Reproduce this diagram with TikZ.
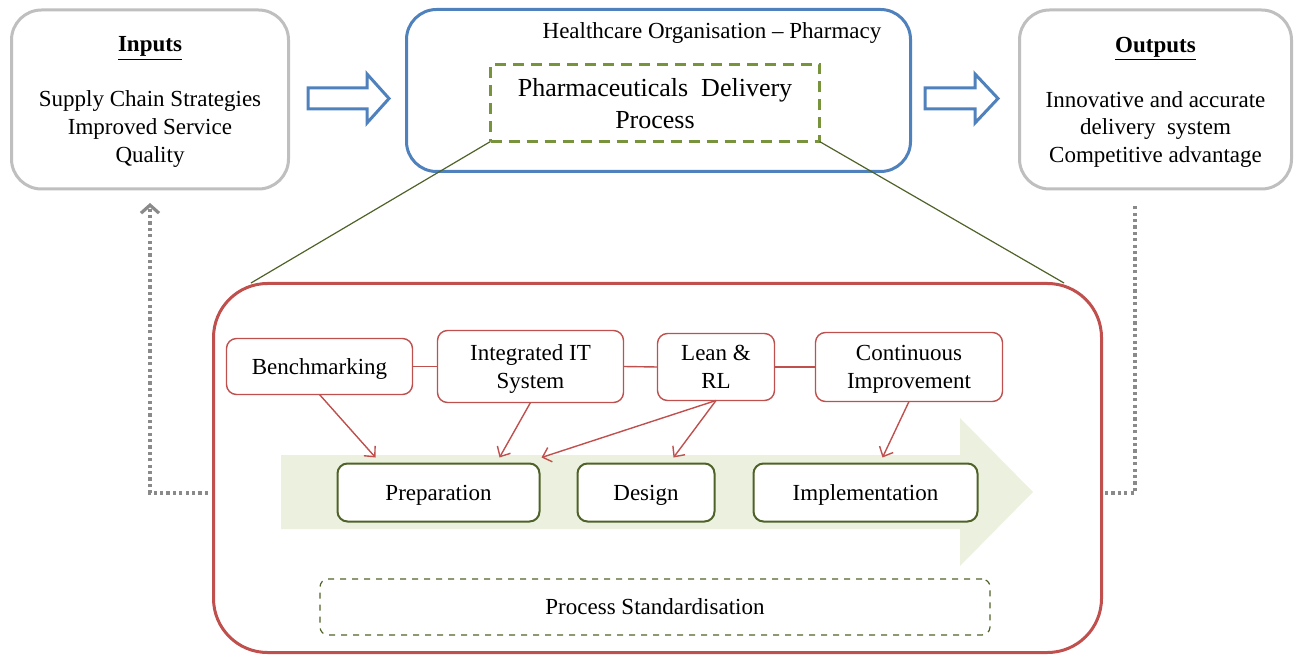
\documentclass[tikz,border=0pt]{standalone}
\usepackage{fontspec}
\setmainfont{Liberation Serif}
\usetikzlibrary{arrows.meta,calc}
\definecolor{grayb}{HTML}{BFBFBF}
\definecolor{blueb}{HTML}{4F81BD}
\definecolor{greenb}{HTML}{77933C}
\definecolor{dgreen}{HTML}{4F6228}
\definecolor{redb}{HTML}{C0504D}
\definecolor{lgreen}{HTML}{EBF1DE}
\definecolor{dotgray}{HTML}{8A8A8A}
\begin{document}
\begin{tikzpicture}[x=0.5pt,y=-0.5pt,
  every node/.style={font=\fontsize{11.5}{13.8}\selectfont, inner sep=0pt, outer sep=0pt, align=center, text depth=0pt},
  iobox/.style={draw=grayb, line width=1.5pt, rounded corners=15pt, fill=white},
  orgbox/.style={draw=blueb, line width=1.5pt, rounded corners=15pt},
  procbox/.style={draw=greenb, line width=1.5pt, dash pattern=on 5.5pt off 3.5pt, font=\fontsize{13}{16}\selectfont},
  bigbox/.style={draw=redb, line width=1.5pt, rounded corners=27pt},
  toolbox/.style={draw=redb, line width=0.7pt, rounded corners=5pt, fill=white},
  phasebox/.style={draw=dgreen, line width=1pt, rounded corners=5pt, fill=white, minimum height=29pt},
  stdbox/.style={draw=dgreen, line width=0.6pt, dashed, rounded corners=4pt},
  blockarrow/.style={draw=blueb, line width=1.5pt, fill=white},
  toolarrow/.style={draw=redb, line width=0.7pt, -{Straight Barb[length=4pt,width=7.5pt]}},
  zoomline/.style={draw=dgreen, line width=0.6pt},
  feedback/.style={draw=dotgray, line width=1.6pt, dash pattern=on 1.6pt off 1.6pt}
]
\useasboundingbox (0,0) rectangle (1295,657);

% top row
\node[iobox, minimum width=138.5pt, minimum height=89.5pt] (inputs) at (150,99.5)
  {\underline{\textbf{Inputs}}\\[13.7pt]Supply Chain Strategies\\Improved Service\\Quality};
\node[iobox, minimum width=136pt, minimum height=89.5pt] (outputs) at (1155.5,99.5)
  {\underline{\textbf{Outputs}}\\[13.7pt]Innovative and accurate\\delivery\ \ system\\Competitive advantage};
\node[orgbox, minimum width=252pt, minimum height=81pt] (org) at (658.5,90.5) {};
\node (orglabel) at (712,31) {Healthcare Organisation -- Pharmacy};
\node[procbox, minimum width=164.5pt, minimum height=38.5pt] (proc) at (655,103)
  {Pharmaceuticals\ \ Delivery\\Process};

% block arrows
\draw[blockarrow] (308,88) -- (367,88) -- (367,74) -- (389,98.5) -- (367,123) -- (367,109) -- (308,109) -- cycle;
\draw[blockarrow] (925,88) -- (975,88) -- (975,74) -- (998,98.5) -- (975,123) -- (975,109) -- (925,109) -- cycle;

% big red box
\node[bigbox, minimum width=444pt, minimum height=184.5pt] (detail) at (657.5,468) {};
\coordinate (zl) at (251,283);
\coordinate (zr) at (1064,283);
\draw[zoomline] (proc.south west) -- (zl);
\draw[zoomline] (proc.south east) -- (zr);

% process arrow background
\fill[lgreen] (281,455) -- (960,455) -- (960,418) -- (1033,492) -- (960,566) -- (960,529) -- (281,529) -- cycle;

% tool boxes
\node[toolbox, minimum width=93pt, minimum height=28pt] (bench) at (319.5,366.5) {Benchmarking};
\node[toolbox, minimum width=93pt, minimum height=36pt] (integ) at (530.5,366.5) {Integrated IT\\System};
\node[toolbox, minimum width=58.5pt, minimum height=33.5pt] (lean) at (716,367) {Lean \&\\RL};
\node[toolbox, minimum width=93.5pt, minimum height=34.5pt] (cont) at (909,367) {Continuous\\Improvement};
\draw[redb, line width=0.7pt] (bench.east) -- (integ.west);
\draw[redb, line width=0.7pt] (integ.east) -- (lean.west);
\draw[redb, line width=0.7pt] (lean.east) -- (cont.west);

% phase boxes
\node[phasebox, minimum width=101pt] (prep) at (438.5,492.5) {Preparation};
\node[phasebox, minimum width=68.5pt] (design) at (646,492.5) {Design};
\node[phasebox, minimum width=112pt] (impl) at (865.5,492.5) {Implementation};

% tool arrows
\draw[toolarrow] (bench.south) -- ($(prep.north west)+(38,-6)$);
\draw[toolarrow] (integ.south) -- ($(prep.north west)+(162,-6)$);
\draw[toolarrow] (lean.south) -- ($(prep.north east)+(2,-6)$);
\draw[toolarrow] (lean.south) -- ($(design.north west)+(96,-6)$);
\draw[toolarrow] (cont.south) -- ($(impl.north west)+(129,-6)$);

% standardisation
\node[stdbox, minimum width=335pt, minimum height=28pt] (std) at (655,607) {Process Standardisation};

% feedback dotted lines
\coordinate (fbl) at (208,493);
\coordinate (fbr) at (1105,493);
\coordinate (outtop) at (1135,206);
\draw[feedback, -{Straight Barb[length=4pt,width=9pt]}] (fbl) -| ([yshift=-7pt]inputs.south);
\draw[feedback] (fbr) -| (outtop);
\end{tikzpicture}
\end{document}
